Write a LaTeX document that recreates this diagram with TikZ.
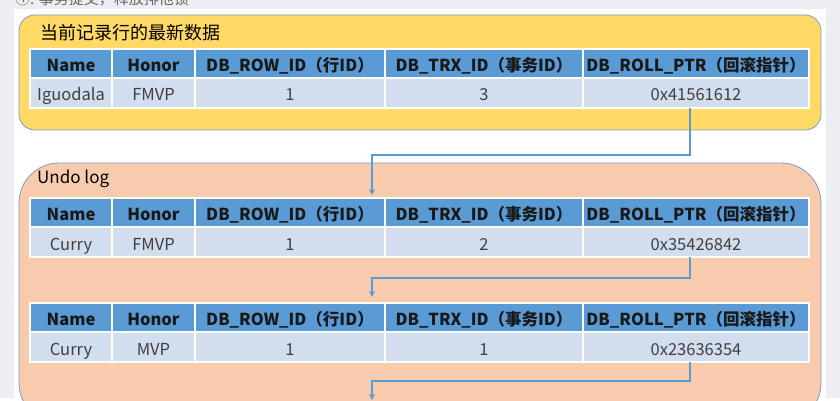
\documentclass[tikz,border=0pt]{standalone}
\usepackage{fontspec}
\setmainfont{Noto Sans CJK SC}
\usetikzlibrary{positioning,arrows.meta}
\definecolor{pagegrey}{HTML}{EDEEF2}
\definecolor{newbg}{HTML}{FFD966}
\definecolor{undobg}{HTML}{F8CBAD}
\definecolor{framec}{HTML}{7F9CC4}
\definecolor{headc}{HTML}{5B9BD5}
\definecolor{cellc}{HTML}{D2DDEE}
\tikzset{
  cell/.style={
    draw=white, line width=1.5pt,
    inner sep=0pt, outer sep=0pt,
    anchor=north west,
    text height=17pt, text depth=1pt
  },
  head/.style={cell, fill=headc, minimum height=29pt,
    font=\fontsize{16.5}{18}\selectfont\bfseries, text=black!90},
  data/.style={cell, fill=cellc, minimum height=30pt,
    font=\fontsize{16.5}{18}\selectfont, text=black!75},
  box/.style={draw=framec, line width=0.8pt},
  ptr/.style={draw=headc, line width=1.8pt, -{Stealth[length=6pt,width=6pt]}}
}
% one record: header row + data row
\newcommand{\recordrow}[6]{%
  \node[head, minimum width=82pt] (#1h1) at (30,#2) {Name};
  \node[head, minimum width=83pt] (#1h2) at (112,#2) {Honor};
  \node[head, minimum width=190pt] (#1h3) at (195,#2) {DB\_ROW\_ID（行ID）};
  \node[head, minimum width=198pt] (#1h4) at (385,#2) {DB\_TRX\_ID（事务ID）};
  \node[head, minimum width=226pt] (#1h5) at (583,#2) {DB\_ROLL\_PTR（回滚指针）};
  \node[data, minimum width=82pt] (#1d1) at (#1h1.south west) {#3};
  \node[data, minimum width=83pt] (#1d2) at (#1h2.south west) {#4};
  \node[data, minimum width=190pt] (#1d3) at (#1h3.south west) {1};
  \node[data, minimum width=198pt] (#1d4) at (#1h4.south west) {#5};
  \node[data, minimum width=226pt] (#1d5) at (#1h5.south west) {#6};
}

\begin{document}
\begin{tikzpicture}[x=1pt,y=-1pt]
  \path[use as bounding box] (0,0) rectangle (840,401);
  \clip (0,0) rectangle (840,401);
  \fill[pagegrey] (0,0) rectangle (840,401);
  \fill[white] (14,9) rectangle (826,401);
  \fill[white] (0,398) rectangle (840,401);
  \node[anchor=west, inner sep=0pt, text=black!60, font=\fontsize{15}{17}\selectfont]
    (note) at (15,-1) {④: 事务提交，释放排他锁};

  % latest version of the row
  \draw[box, fill=newbg, rounded corners=16pt] (19,15) rectangle (821,130);
  \node[anchor=west, inner sep=0pt, font=\fontsize{18}{20}\selectfont] (newtitle) at (40,33) {当前记录行的最新数据};
  \recordrow{t1}{49}{Iguodala}{FMVP}{3}{0x41561612}

  % undo log
  \draw[box, fill=undobg, rounded corners=40pt] (19,163) rectangle (821,423);
  \node[anchor=west, inner sep=0pt, font=\fontsize{17}{19}\selectfont] (undotitle) at (37,179) {Undo log};
  \recordrow{t2}{198}{Curry}{FMVP}{2}{0x35426842}
  \recordrow{t3}{303}{Curry}{MVP}{1}{0x23636354}
  \coordinate (older) at (372,400);

  \draw[ptr] ([xshift=-6pt]t1d5.south) -- ++(0,47) -| ([xshift=-13pt,yshift=3pt]t2h3.north east);
  \draw[ptr] ([xshift=-6pt]t2d5.south) -- ++(0,21) -| ([xshift=-13pt,yshift=6pt]t3h3.north east);
  \draw[ptr] ([xshift=-6pt]t3d5.south) -- ++(0,19) -| (older);
\end{tikzpicture}
\end{document}
